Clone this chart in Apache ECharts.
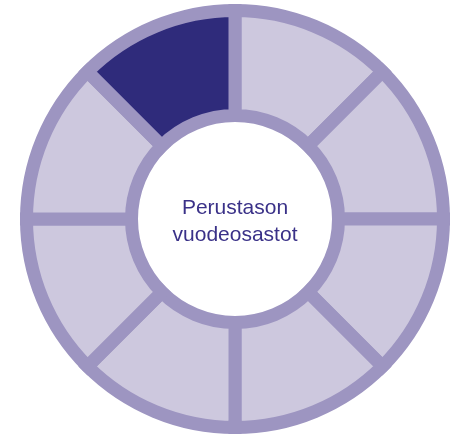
<!DOCTYPE html>
<html><head><meta charset="utf-8">
<script src="https://cdn.jsdelivr.net/npm/echarts@6/dist/echarts.min.js"></script>
<style>html,body{margin:0;padding:0;background:#fff}#c{width:456px;height:438px}</style>
</head><body><div id="c"></div>
<script>
const categories = ['1','2','3','4','5','6','7','8'];
const values = [1,1,1,1,1,1,1,1];
const highlighted = [false,false,false,false,false,false,false,true];
const centerLabel = ['Perustason','vuodeosastot'];

const chart = echarts.init(document.getElementById('c'), null, {renderer:'canvas'});
chart.setOption({
  animation:false,
  series:[{
    type:'pie',
    silent:true,
    center:[235,219],
    radius:[103.5,208.5],
    startAngle:90,
    clockwise:true,
    label:{show:false},
    labelLine:{show:false},
    data: categories.map((c,i)=>({
      name:c, value:values[i],
      itemStyle:{color: highlighted[i] ? '#2F2B7B' : '#CDC8DE', borderColor:'#9D95C1', borderWidth:13, borderJoin:'miter'}
    }))
  }],
  graphic:[{
    type:'text', x:235, y:222,
    style:{text:centerLabel.join('\n'), textAlign:'center', textVerticalAlign:'middle', fill:'#3A3188', font:'21px "Liberation Sans", Arial, sans-serif', lineHeight:27}
  }]
});
</script></body></html>
